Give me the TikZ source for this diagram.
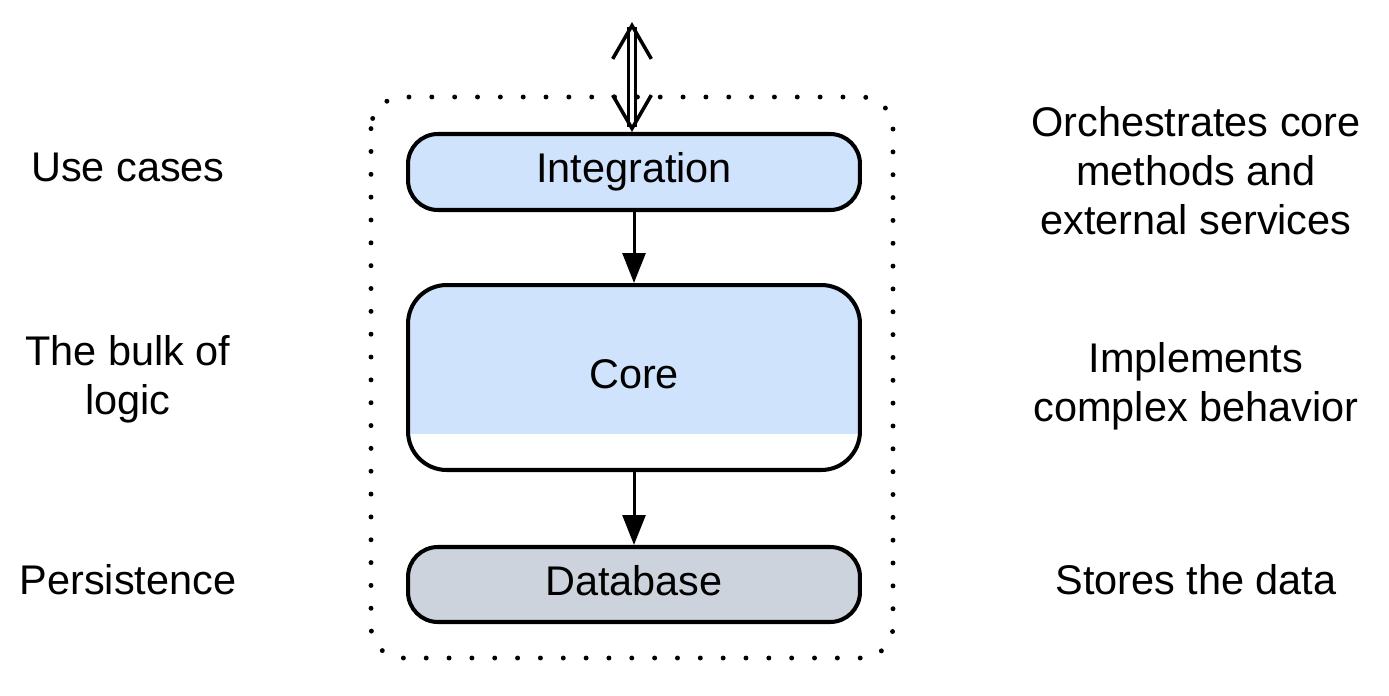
\documentclass[tikz,border=0pt]{standalone}
\usepackage{fontspec}
\setmainfont{Liberation Sans}
\usetikzlibrary{arrows.meta}
\definecolor{layerblue}{HTML}{D0E3FC}
\definecolor{layergray}{HTML}{CDD3DC}

\tikzset{
  layer/.style={draw,line width=2.3pt,rounded corners=17pt,minimum width=9.04cm,align=center,text height=17pt,text depth=5pt},
  note/.style={align=center},
  flow/.style={line width=1.7pt,-{Triangle[length=17pt,width=13pt]}},
  api/.style={line width=1.7pt,double,double distance=2.3pt,>={Straight Barb[length=19pt,width=22pt,line width=2pt]},<->},
}

\begin{document}
\begin{tikzpicture}[x=0.02cm,y=-0.02cm,font=\fontsize{23.6}{27.8}\selectfont]
\useasboundingbox (0,0) rectangle (1389,696);
\draw[line width=2.8pt,line cap=round,dash pattern=on 0pt off 13pt,rounded corners=18pt] (371,97) rectangle (893,658);
\node[layer,fill=layerblue,minimum height=1.52cm] (integ) at (634,172) {Integration};
\node[layer,fill=layerblue,minimum height=3.7cm,rounded corners=22pt,
  path picture={\fill[white,sharp corners] (path picture bounding box.south west) rectangle ([yshift=0.72cm]path picture bounding box.south east);}] (core) at (634,377.5) {Core};
\node[layer,fill=layergray,minimum height=1.5cm] (db) at (634,584.5) {Database};
\coordinate (ext) at (632,22);
\draw[api] (ext) -- (integ.north -| ext);
\draw[flow] (integ) -- (core);
\draw[flow] (core) -- (db);
% left column
\node[note] (usecases) at (128,167) {Use cases};
\node[note] (bulk) at (128,379) {The bulk of\\logic};
\node[note] (persist) at (128,580) {Persistence};
% right column
\node[note] (orch) at (1196,171) {Orchestrates core\\methods and\\external services};
\node[note] (impl) at (1196,386) {Implements\\complex behavior};
\node[note] (stores) at (1196,580) {Stores the data};
\end{tikzpicture}
\end{document}
